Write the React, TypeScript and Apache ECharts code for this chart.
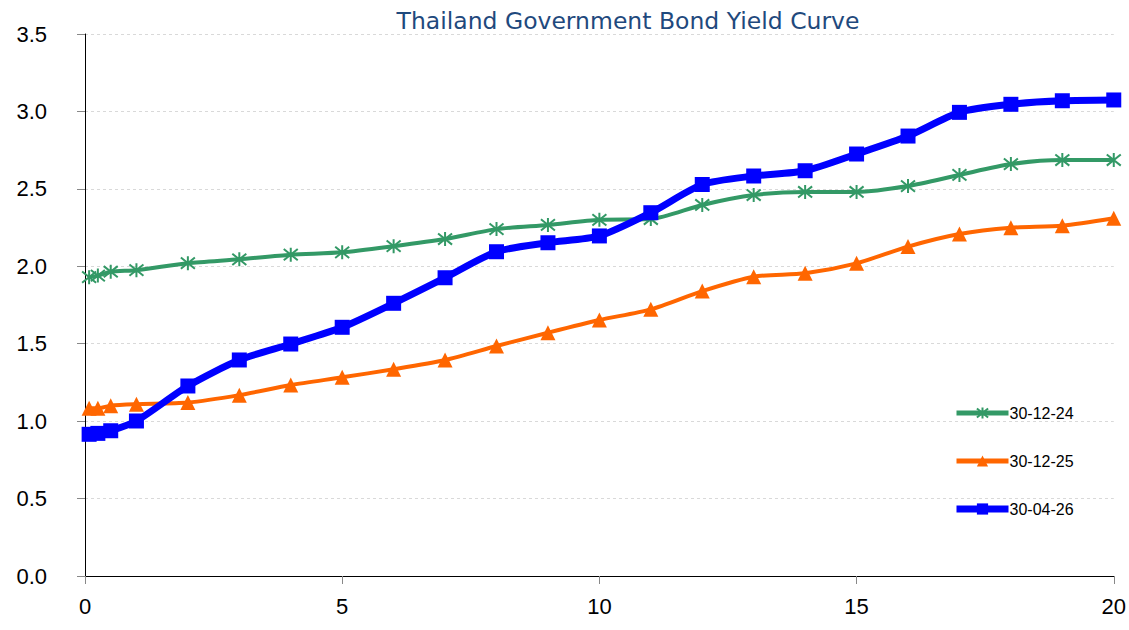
import React, { useEffect, useRef } from "react";
import * as echarts from "echarts";

const maturities = [0.08, 0.25, 0.5, 1, 2, 3, 4, 5, 6, 7, 8, 9, 10, 11, 12, 13, 14, 15, 16, 17, 18, 19, 20];
const yield241230 = [1.93, 1.94, 1.965, 1.975, 2.02, 2.045, 2.075, 2.09, 2.13, 2.176, 2.24, 2.267, 2.30, 2.305, 2.396, 2.46, 2.48, 2.48, 2.518, 2.59, 2.66, 2.686, 2.686];
const yield251230 = [1.083, 1.083, 1.10, 1.109, 1.12, 1.168, 1.233, 1.283, 1.335, 1.395, 1.485, 1.571, 1.653, 1.722, 1.84, 1.933, 1.955, 2.019, 2.127, 2.208, 2.249, 2.262, 2.31];
const yield260430 = [0.915, 0.921, 0.938, 1.001, 1.227, 1.395, 1.498, 1.606, 1.761, 1.926, 2.094, 2.152, 2.196, 2.346, 2.528, 2.583, 2.617, 2.725, 2.841, 2.994, 3.046, 3.069, 3.074];
const seriesNames = ["30-12-24", "30-12-25", "30-04-26"];
const titleText = "Thailand Government Bond Yield Curve";

const pair = (ys: number[]) => maturities.map((x, i) => [x, ys[i]]);

const asterisk = "path://M1,1L9,9M9,1L1,9M5,0L5,10";

export default function App() {
  const ref = useRef<HTMLDivElement>(null);
  useEffect(() => {
    document.body.style.margin = "0";
    const chart = echarts.init(ref.current!, undefined, { renderer: "svg" });
    chart.setOption({
      animation: false,
      backgroundColor: "#ffffff",
      title: {
        text: titleText,
        left: 623,
        textAlign: "center",
        top: 4,
        textStyle: { color: "#1F497D", fontFamily: "DejaVu Sans", fontSize: 23.5, fontWeight: "normal" },
      },
      grid: { left: 85, right: 13, top: 34, bottom: 54, containLabel: false },
      legend: {
        orient: "vertical",
        left: 948,
        top: 400,
        itemWidth: 52,
        itemHeight: 14,
        itemGap: 32,
        textStyle: { fontFamily: "Liberation Sans", fontSize: 16, color: "#000", padding: [0, 0, 0, -4] },
        data: [
          { name: seriesNames[0], lineStyle: { width: 5 } },
          { name: seriesNames[1], lineStyle: { width: 5 } },
          { name: seriesNames[2], lineStyle: { width: 7 } },
        ],
      },
      xAxis: {
        type: "value",
        min: 0,
        max: 20,
        interval: 5,
        axisLine: { lineStyle: { color: "#000", width: 1 } },
        axisTick: { show: true, length: 8, lineStyle: { color: "#888" } },
        axisLabel: { fontFamily: "Liberation Sans", fontSize: 22, color: "#000", margin: 19 },
        splitLine: { show: false },
      },
      yAxis: {
        type: "value",
        min: 0,
        max: 3.5,
        interval: 0.5,
        axisLine: { show: true, lineStyle: { color: "#000", width: 1 } },
        axisTick: { show: true, length: 8, lineStyle: { color: "#888" } },
        axisLabel: {
          fontFamily: "Liberation Sans",
          fontSize: 22,
          color: "#000",
          margin: 38,
          formatter: (v: number) => v.toFixed(1),
        },
        splitLine: { show: true, lineStyle: { color: "#d9d9d9", type: [3, 3], width: 1 } },
      },
      series: [
        {
          name: seriesNames[0],
          type: "line",
          data: pair(yield241230),
          smooth: 0.25,
          symbol: asterisk,
          symbolSize: 14,
          lineStyle: { color: "#339966", width: 4 },
          itemStyle: { color: "#339966", borderColor: "#339966", borderWidth: 2 },
          z: 3,
        },
        {
          name: seriesNames[1],
          type: "line",
          data: pair(yield251230),
          smooth: 0.25,
          symbol: "triangle",
          symbolSize: 15,
          lineStyle: { color: "#FF6600", width: 4 },
          itemStyle: { color: "#FF6600" },
          z: 4,
        },
        {
          name: seriesNames[2],
          type: "line",
          data: pair(yield260430),
          smooth: 0.25,
          symbol: "rect",
          symbolSize: 15,
          lineStyle: { color: "#0000FF", width: 7 },
          itemStyle: { color: "#0000FF" },
          z: 5,
        },
      ],
    });
    return () => chart.dispose();
  }, []);
  return <div ref={ref} style={{ position: "absolute", left: 0, top: 0, width: 1129, height: 630 }} />;
}
